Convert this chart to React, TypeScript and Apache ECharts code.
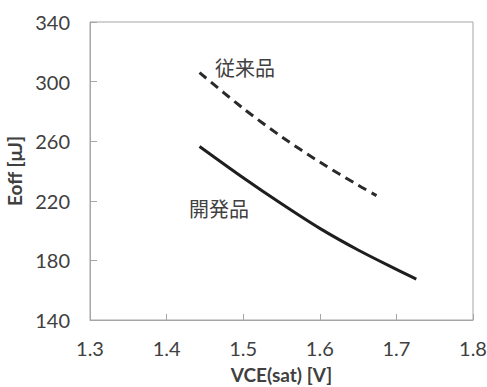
import React, { useEffect, useRef } from "react";
import * as echarts from "echarts";

const devX = [1.443, 1.5, 1.55, 1.6, 1.65, 1.7, 1.726];
const devY = [256.5, 235.5, 218, 201.5, 187, 174, 167.5];
const convX = [1.443, 1.5, 1.55, 1.6, 1.65, 1.674];
const convY = [306, 282, 263, 246, 230.5, 223.5];

const xTicks = { min: 1.3, max: 1.8, interval: 0.1 };
const yTicks = { min: 140, max: 340, interval: 40 };

const devLabel = "開発品";
const convLabel = "従来品";
const xTitle = "VCE(sat) [V]";
const yTitle = "Eoff [μJ]";

export default function App() {
  const ref = useRef<HTMLDivElement>(null);
  useEffect(() => {
    if (!ref.current) return;
    const chart = echarts.init(ref.current, null, { renderer: "svg" });
    const font = "Lato, 'Open Sans', sans-serif";
    const cjk = "'Noto Sans CJK JP', sans-serif";
    const axisColor = "#a6a6a6";
    const textColor = "#404040";
    chart.setOption({
      animation: false,
      backgroundColor: "#ffffff",
      grid: {
        left: 90,
        top: 22,
        right: 14,
        bottom: 67,
        show: true,
        borderColor: axisColor,
        borderWidth: 1,
        outerBoundsMode: "none",
        containLabel: false,
      },
      xAxis: {
        type: "value",
        min: xTicks.min,
        max: xTicks.max,
        interval: xTicks.interval,
        name: xTitle,
        nameLocation: "middle",
        nameGap: 45,
        nameTextStyle: { fontFamily: font, fontSize: 19, fontWeight: "bold", color: textColor },
        axisLine: { show: true, lineStyle: { color: axisColor, width: 1 } },
        axisTick: { show: true, inside: true, length: 6, lineStyle: { color: axisColor } },
        splitLine: { show: false },
        axisLabel: {
          margin: 18,
          fontFamily: font,
          fontSize: 20,
          color: textColor,
          formatter: (v: number) => v.toFixed(1),
        },
      },
      yAxis: {
        type: "value",
        min: yTicks.min,
        max: yTicks.max,
        interval: yTicks.interval,
        name: yTitle,
        nameLocation: "middle",
        nameGap: 60,
        nameRotate: 90,
        nameTextStyle: { fontFamily: font, fontSize: 19, fontWeight: "bold", color: textColor },
        axisLine: { show: true, lineStyle: { color: axisColor, width: 1 } },
        axisTick: { show: true, inside: true, length: 7, lineStyle: { color: axisColor } },
        splitLine: { show: false },
        axisLabel: { margin: 20, fontFamily: font, fontSize: 20, color: textColor },
      },
      series: [
        {
          type: "line",
          name: devLabel,
          data: devX.map((x, i) => [x, devY[i]]),
          smooth: 0.3,
          showSymbol: false,
          lineStyle: { color: "#1e1e1e", width: 3 },
        },
        {
          type: "line",
          name: convLabel,
          data: convX.map((x, i) => [x, convY[i]]),
          smooth: 0.3,
          showSymbol: false,
          lineStyle: { color: "#2a2a2a", width: 3, type: [9, 6] },
        },
      ],
      graphic: [
        {
          type: "text",
          left: 215,
          top: 57,
          style: { text: convLabel, font: `20px ${cjk}`, fill: textColor },
        },
        {
          type: "text",
          left: 189,
          top: 198,
          style: { text: devLabel, font: `20px ${cjk}`, fill: textColor },
        },
      ],
    });
    return () => chart.dispose();
  }, []);
  return (
    <div
      ref={ref}
      style={{ position: "absolute", left: 0, top: 0, width: 487, height: 387 }}
    />
  );
}
